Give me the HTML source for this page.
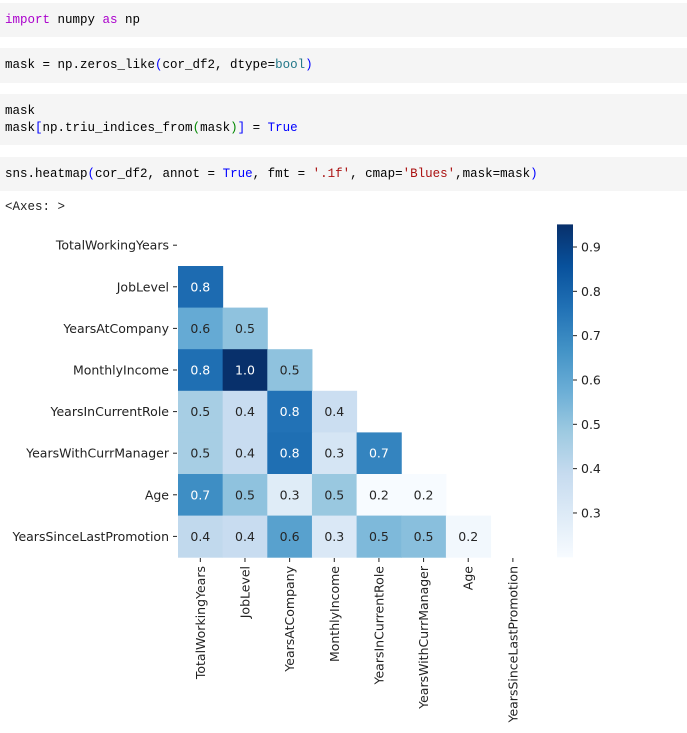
<!DOCTYPE html>
<html><head><meta charset="utf-8"><style>
body{margin:0;width:687px;height:733px;background:#fff;position:relative;overflow:hidden;font-family:"Liberation Mono","DejaVu Sans Mono",monospace;}
.cell{position:absolute;left:0;width:687px;background:#f5f5f5;}
.code{position:absolute;left:5px;font-size:12.5px;color:#000;white-space:pre;line-height:17px;}
.kw{color:#a0c}.bl{color:#00f}.st{color:#a11}.bt{color:#208}
</style></head><body>
<div class="cell" style="top:3px;height:34px"><div class="code" style="top:9px"><span class="kw">import</span> numpy <span class="kw">as</span> np</div></div>
<div class="cell" style="top:48px;height:35px"><div class="code" style="top:9px">mask = np.zeros_like<span class="bl">(</span>cor_df2, dtype=<span style="color:#278">bool</span><span class="bl">)</span></div></div>
<div class="cell" style="top:94px;height:51px"><div class="code" style="top:9px">mask
mask<span class="bl">[</span>np.triu_indices_from<span style="color:#080">(</span>mask<span style="color:#080">)</span><span class="bl">]</span> = <span class="bl">True</span></div></div>
<div class="cell" style="top:157px;height:34px"><div class="code" style="top:9px">sns.heatmap<span class="bl">(</span>cor_df2, annot = <span class="bl">True</span>, fmt = <span class="st">'.1f'</span>, cmap=<span class="st">'Blues'</span>,mask=mask<span class="bl">)</span></div></div>
<div class="code" style="top:199px;color:#222">&lt;Axes: &gt;</div>
<svg id="chart" width="687" height="733" style="position:absolute;left:0;top:0" font-family="DejaVu Sans, Liberation Sans, sans-serif"></svg>
<script>
const labels=["TotalWorkingYears","JobLevel","YearsAtCompany","MonthlyIncome","YearsInCurrentRole","YearsWithCurrManager","Age","YearsSinceLastPromotion"];
const row1=[0.78];
const row2=[0.59,0.51];
const row3=[0.77,0.951,0.51];
const row4=[0.46,0.38,0.76,0.37];
const row5=[0.46,0.38,0.77,0.33,0.71];
const row6=[0.68,0.51,0.29,0.49,0.2,0.2];
const row7=[0.4,0.38,0.62,0.31,0.54,0.52,0.22];
const rows=[[],row1,row2,row3,row4,row5,row6,row7];
const cbTicks=[0.3,0.4,0.5,0.6,0.7,0.8,0.9];
const vmin=0.2,vmax=0.951;
const X0=178,CW=44.65,Y0=224.4,RH=41.6,N=8;
const xs=i=>X0+i*CW, ys=j=>Y0+j*RH;
const CB={x:557,w:16,top:224.4,bot:557.3};
const cbY=v=>CB.bot-(v-vmin)/(vmax-vmin)*(CB.bot-CB.top);
const stops=["#f7fbff","#deebf7","#c6dbef","#9ecae1","#6baed6","#4292c6","#2171b5","#08519c","#08306b"];
function hex(h){return[1,3,5].map(i=>parseInt(h.substr(i,2),16));}
function cmap(t){t=Math.max(0,Math.min(1,t));const p=t*8,i=Math.min(7,Math.floor(p)),f=p-i;const a=hex(stops[i]),b=hex(stops[i+1]);const c=a.map((v,k)=>Math.round(v+(b[k]-v)*f));return{c:`rgb(${c})`,l:(0.299*c[0]+0.587*c[1]+0.114*c[2])};}
const svg=document.getElementById('chart');const NS="http://www.w3.org/2000/svg";
function mk(t,a,p){const e=document.createElementNS(NS,t);for(const k in a)e.setAttribute(k,a[k]);(p||svg).appendChild(e);return e;}
rows.forEach((r,j)=>r.forEach((v,i)=>{
 const m=cmap((v-vmin)/(vmax-vmin));
 const rc=mk('rect',{x:xs(i),y:ys(j),width:CW+0.5,height:RH+0.5,fill:m.c});
 
 
 const t=mk('text',{x:xs(i)+CW/2,y:ys(j)+RH/2+4.5,'text-anchor':'middle','font-size':'12.5',fill:m.l<140?'#fff':'#262626'});
 t.textContent=v.toFixed(1);
 
 
}));
labels.forEach((lb,j)=>{
 const y=ys(j)+RH/2;
 mk('line',{x1:173,x2:177,y1:y,y2:y,stroke:'#222','stroke-width':1});
 const t=mk('text',{x:169,y:y+4.5,'text-anchor':'end','font-size':'12.5',fill:'#222'});
 t.textContent=lb;
 
 
 const x=xs(j)+CW/2;
 mk('line',{x1:x,x2:x,y1:558,y2:562,stroke:'#222','stroke-width':1});
 const tx=mk('text',{x:0,y:0,'text-anchor':'end','font-size':'12.5',fill:'#222',transform:`translate(${x+4.5},566) rotate(-90)`});
 tx.textContent=lb;
 
 
});
const defs=mk('defs',{});const g=mk('linearGradient',{id:'cbg',x1:0,y1:1,x2:0,y2:0},defs);
stops.forEach((s,i)=>mk('stop',{offset:i/8,'stop-color':s},g));
const cb=mk('rect',{x:CB.x,y:CB.top,width:CB.w,height:CB.bot-CB.top,fill:'url(#cbg)'});


cbTicks.forEach(v=>{
 const y=cbY(v);
 mk('line',{x1:CB.x+CB.w,x2:CB.x+CB.w+4,y1:y,y2:y,stroke:'#222','stroke-width':1});
 const t=mk('text',{x:CB.x+CB.w+8,y:y+4.5,'font-size':'12.5',fill:'#222'});
 t.textContent=v.toFixed(1);
 
 
});
</script></body></html>
